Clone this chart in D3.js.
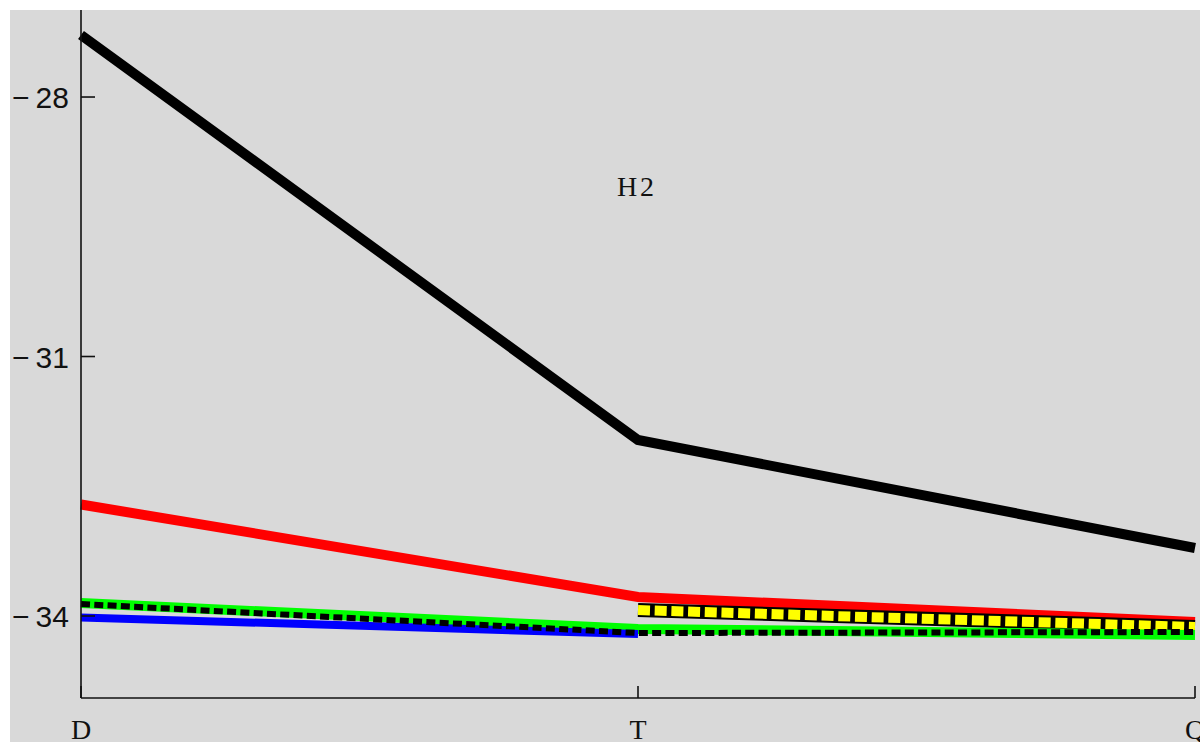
<!DOCTYPE html>
<html>
<head>
<meta charset="utf-8">
<script src="https://cdn.jsdelivr.net/npm/d3@7"></script>
<style>
  body { margin: 0; background: #fff; }
  svg { display: block; }
</style>
</head>
<body>
<svg id="chart" width="1200" height="742"></svg>
<script>
// data
const cats = ["D", "T", "Q"]
const blackVals = [-27.283, -31.965, -33.214]
const redVals = [-32.711, -33.780, -34.070]
const yellowVals = [null, -33.931, -34.127]
const greenVals = [-33.850, -34.150, -34.220]
const blueVals = [-34.017, -34.208, null]
const dashVals = [-33.861, -34.197, -34.185]
const yTicks = [-34, -31, -28]
const title = "H2"

let svg = d3.select("#chart")
let width = 1200, height = 742

let x = d3.scalePoint().domain(cats).range([81, 1195])
let y = d3.scaleLinear().domain([-34.948, -26.994]).range([698, 10])

svg.append("rect")
    .attr("x", 10).attr("y", 10)
    .attr("width", width - 10).attr("height", height - 10)
    .style("fill", "#d9d9d9")

let line = d3.line()
    .defined(d => d[1] != null)
    .x(d => x(d[0]))
    .y(d => y(d[1]))

function pts(vals) {
    return cats.map((c, i) => [c, vals[i]])
}

function draw(vals, color, w, dash) {
    let p = svg.append("path")
        .attr("d", line(pts(vals)))
        .style("fill", "none")
        .style("stroke", color)
        .style("stroke-width", w)
        .style("stroke-linejoin", "miter")
    if (dash) p.style("stroke-dasharray", dash)
    return p
}

draw(blackVals, "#000", 10)
draw(redVals, "#ff0000", 10)
// yellow band with black outline
draw(yellowVals, "#000", 14)
draw(yellowVals, "#ffff00", 10, "12,4.7")
draw(greenVals, "#00ff00", 10)
draw(blueVals, "#0000ff", 8)
draw(dashVals, "#000", 6, "9,4.3")

// axes
let axisG = svg.append("g").style("stroke", "#111").style("stroke-width", 1.6)
axisG.append("line").attr("x1", 81).attr("x2", 81).attr("y1", 10).attr("y2", 698)
axisG.append("line").attr("x1", 81).attr("x2", 1195).attr("y1", 698).attr("y2", 698)

axisG.selectAll(".ytick").data(yTicks).join("line")
    .attr("x1", 81).attr("x2", 95)
    .attr("y1", d => y(d)).attr("y2", d => y(d))

axisG.selectAll(".xtick").data(cats).join("line")
    .attr("x1", d => x(d)).attr("x2", d => x(d))
    .attr("y1", 686).attr("y2", 698)

svg.selectAll(".ylab").data(yTicks).join("text")
    .attr("x", 69)
    .attr("y", d => y(d) + 11)
    .attr("text-anchor", "end")
    .style("font-family", "'Liberation Sans', Arial, sans-serif")
    .style("font-size", "30px")
    .style("fill", "#111")
    .text(d => "\u2212\u2009" + Math.abs(d))

svg.selectAll(".xlab").data(cats).join("text")
    .attr("x", d => x(d))
    .attr("y", 739)
    .attr("text-anchor", "middle")
    .style("font-family", "'Liberation Serif', 'Times New Roman', serif")
    .style("font-size", "28px")
    .style("fill", "#111")
    .text(d => d)

svg.append("text")
    .attr("x", 637).attr("y", 196)
    .attr("text-anchor", "middle")
    .style("font-family", "'Liberation Serif', 'Times New Roman', serif")
    .style("font-size", "28px")
    .style("letter-spacing", "3px")
    .style("fill", "#111")
    .text(title)
</script>
</body>
</html>
